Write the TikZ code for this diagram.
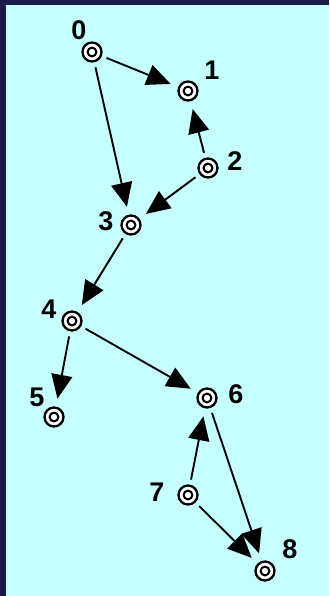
\documentclass[tikz,border=0pt]{standalone}
\usepackage{fontspec}
\setmainfont{Liberation Sans}
\usetikzlibrary{arrows.meta}
\definecolor{bgcyan}{HTML}{C6FFFF}
\definecolor{navy}{HTML}{1A1A48}
\tikzset{
  vtx/.style={circle, draw=black, fill=white, line width=2.3pt, minimum size=19pt, inner sep=0pt,
    path picture={\draw[line width=2pt] (path picture bounding box.center) circle (4.4pt);}},
  lab/.style={font=\bfseries\fontsize{27}{27}\selectfont, inner sep=0pt},
  edge/.style={line width=1.9pt, -{Triangle[length=24pt,width=21pt]}, shorten >=8pt, shorten <=5pt}
}
\begin{document}
\begin{tikzpicture}[x=1pt,y=-1pt]
\useasboundingbox (0,0) rectangle (329,596);
\fill[navy] (0,0) rectangle (329,596);
\fill[bgcyan] (6,5) rectangle (329,596);
\node[vtx] (n0) at (92,52) {};
\node[vtx] (n1) at (188,91) {};
\node[vtx] (n2) at (208,168) {};
\node[vtx] (n3) at (131,225) {};
\node[vtx] (n4) at (72,321) {};
\node[vtx] (n5) at (54,417) {};
\node[vtx] (n6) at (207,398) {};
\node[vtx] (n7) at (188,495) {};
\node[vtx] (n8) at (265,571) {};
\node[lab] (l0) at (79,30) {0};
\node[lab] (l1) at (212,70) {1};
\node[lab] (l2) at (235,161) {2};
\node[lab] (l3) at (106,221) {3};
\node[lab] (l4) at (49,309) {4};
\node[lab] (l5) at (37,397) {5};
\node[lab] (l6) at (236,394) {6};
\node[lab] (l7) at (157,492) {7};
\node[lab] (l8) at (290,549) {8};
\draw[edge] (n0) -- (n1);
\draw[edge] (n0) -- (n3);
\draw[edge] (n2) -- (n1);
\draw[edge] (n2) -- (n3);
\draw[edge] (n3) -- (n4);
\draw[edge] (n4) -- (n5);
\draw[edge] (n4) -- (n6);
\draw[edge] (n7) -- (n6);
\draw[edge] (n6) -- (n8);
\draw[edge] (n7) -- (n8);
\end{tikzpicture}
\end{document}
